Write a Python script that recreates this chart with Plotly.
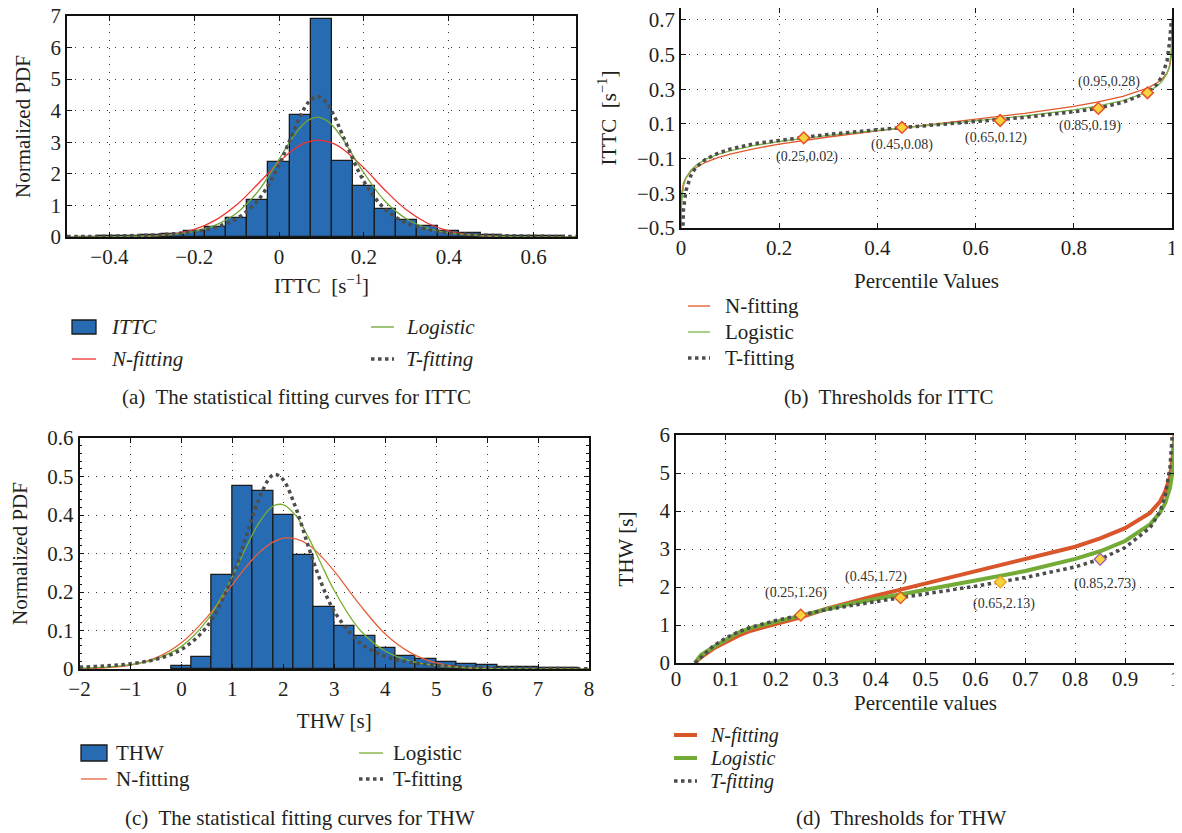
import plotly.graph_objects as go

# ---------------- Panel (a): ITTC histogram + fitted PDFs ----------------
ittc_bin_centers = [-0.45, -0.4, -0.35, -0.3, -0.25, -0.2, -0.15, -0.1, -0.05, 0.0, 0.05, 0.1,
                    0.15, 0.2, 0.25, 0.3, 0.35, 0.4, 0.45, 0.5, 0.55, 0.6, 0.65]
ittc_pdf = [0.01, 0.02, 0.03, 0.05, 0.09, 0.2, 0.33, 0.61, 1.16, 2.36, 3.85, 6.9,
            2.42, 1.6, 0.9, 0.55, 0.35, 0.2, 0.12, 0.07, 0.04, 0.03, 0.02]
ittc_bin_width = 0.05

ittc_x = [-0.5, -0.4, -0.3, -0.25, -0.2, -0.15, -0.1, -0.05, 0.0, 0.025, 0.05, 0.07, 0.09,
          0.11, 0.13, 0.15, 0.2, 0.25, 0.3, 0.35, 0.4, 0.45, 0.5, 0.6, 0.7]
ittc_n_fit = [0.0001, 0.002, 0.032, 0.095, 0.24, 0.535, 1.02, 1.68, 2.38, 2.68, 2.91, 3.02, 3.07,
              3.04, 2.95, 2.79, 2.19, 1.48, 0.86, 0.435, 0.19, 0.071, 0.023, 0.002, 0.0001]
ittc_logistic = [0.002, 0.009, 0.040, 0.086, 0.18, 0.375, 0.758, 1.44, 2.46, 3.01, 3.47, 3.71, 3.8,
                 3.71, 3.47, 3.105, 2.03, 1.13, 0.576, 0.282, 0.134, 0.064, 0.030, 0.0064, 0.0014]
ittc_t_fit = [0.014, 0.027, 0.063, 0.10, 0.17, 0.306, 0.583, 1.16, 2.28, 3.06, 3.83, 4.28, 4.45,
              4.28, 3.83, 3.22, 1.76, 0.88, 0.45, 0.24, 0.137, 0.083, 0.053, 0.024, 0.012]

# ---------------- Panel (b): ITTC thresholds ----------------
pct_b = [1e-6, 1e-4, 0.001, 0.005, 0.01, 0.02, 0.03, 0.05, 0.075, 0.1, 0.15, 0.2, 0.25, 0.3,
         0.4, 0.5, 0.6, 0.7, 0.8, 0.85, 0.9, 0.95, 0.97, 0.98, 0.99, 0.995, 0.999, 0.9999, 0.999999]
ittc_q_n = [-0.525, -0.391, -0.309, -0.242, -0.209, -0.174, -0.152, -0.121, -0.094, -0.074, -0.042,
            -0.016, 0.005, 0.025, 0.060, 0.093, 0.126, 0.161, 0.202, 0.228, 0.260, 0.307, 0.338,
            0.360, 0.395, 0.428, 0.495, 0.577, 0.70]
ittc_q_l = [-0.819, -0.516, -0.364, -0.258, -0.212, -0.166, -0.139, -0.104, -0.075, -0.055, -0.024,
            -0.001, 0.018, 0.034, 0.063, 0.090, 0.117, 0.146, 0.181, 0.204, 0.235, 0.284, 0.319,
            0.346, 0.392, 0.438, 0.544, 0.696, 0.70]
ittc_q_t = [-1.9, -1.74, -0.753, -0.392, -0.285, -0.198, -0.151, -0.104, -0.069, -0.045, -0.013,
            0.005, 0.022, 0.040, 0.067, 0.090, 0.113, 0.138, 0.171, 0.191, 0.225, 0.282, 0.331,
            0.378, 0.465, 0.572, 0.70, 0.70, 0.70]
ittc_thr_p = [0.25, 0.45, 0.65, 0.85, 0.95]
ittc_thr_v = [0.02, 0.08, 0.12, 0.19, 0.28]

# ---------------- Panel (c): THW histogram + fitted PDFs ----------------
thw_bin_centers = [0.0, 0.4, 0.8, 1.2, 1.6, 2.0, 2.4, 2.8, 3.2, 3.6, 4.0, 4.4, 4.8, 5.2, 5.6,
                   6.0, 6.4, 6.8, 7.2, 7.6]
thw_pdf = [0.009, 0.031, 0.243, 0.475, 0.462, 0.399, 0.296, 0.162, 0.113, 0.087, 0.055, 0.033,
           0.025, 0.017, 0.013, 0.010, 0.006, 0.004, 0.003, 0.002]
thw_bin_width = 0.4

thw_x = [-2, -1.5, -1, -0.5, 0, 0.5, 1, 1.25, 1.5, 1.75, 1.85, 2, 2.25, 2.5, 2.75, 3, 3.5, 4,
         4.5, 5, 5.5, 6, 7, 8]
thw_n_fit = [0.0007, 0.003, 0.0102, 0.0289, 0.068, 0.134, 0.219, 0.262, 0.299, 0.326, 0.333, 0.340,
             0.338, 0.322, 0.292, 0.254, 0.167, 0.091, 0.042, 0.0158, 0.005, 0.0013, 0.0001, 0.0]
thw_logistic = [0.002, 0.0048, 0.0112, 0.0259, 0.0588, 0.1254, 0.2406, 0.3105, 0.375, 0.418, 0.426,
                0.4266, 0.3975, 0.340, 0.271, 0.204, 0.102, 0.0467, 0.0205, 0.0089, 0.0038,
                0.0016, 0.0003, 0.00005]
thw_t_fit = [0.0047, 0.0078, 0.0136, 0.0253, 0.0509, 0.110, 0.239, 0.336, 0.435, 0.499, 0.505,
             0.491, 0.417, 0.315, 0.222, 0.150, 0.0685, 0.033, 0.0172, 0.0096, 0.0057, 0.0036,
             0.0016, 0.0008]

# ---------------- Panel (d): THW thresholds ----------------
pct_d = [0.038, 0.05, 0.075, 0.1, 0.125, 0.15, 0.2, 0.25, 0.3, 0.35, 0.4, 0.45, 0.5, 0.6, 0.65,
         0.7, 0.8, 0.85, 0.9, 0.95, 0.97, 0.98, 0.99, 0.995, 0.999]
thw_q_n = [0.0, 0.15, 0.38, 0.55, 0.72, 0.85, 1.03, 1.2, 1.42, 1.6, 1.77, 1.93, 2.09, 2.4, 2.56,
           2.72, 3.06, 3.28, 3.55, 3.95, 4.25, 4.5, 4.9, 5.4, 6.0]
thw_q_l = [0.0, 0.21, 0.42, 0.62, 0.8, 0.92, 1.09, 1.26, 1.41, 1.56, 1.69, 1.81, 1.93, 2.17, 2.29,
           2.42, 2.74, 2.94, 3.21, 3.65, 3.96, 4.2, 4.61, 5.02, 5.96]
thw_q_t = [0.0, 0.14, 0.45, 0.66, 0.82, 0.94, 1.12, 1.26, 1.4, 1.51, 1.62, 1.72, 1.82, 2.02, 2.13,
           2.25, 2.53, 2.73, 3.04, 3.56, 3.98, 4.38, 5.16, 6.1, 9.0]
thw_thr_p = [0.25, 0.45, 0.65, 0.85]
thw_thr_v = [1.26, 1.72, 2.13, 2.73]

# ---------------- tick values ----------------
ticks_a_x = [-0.4, -0.2, 0, 0.2, 0.4, 0.6]
ticks_a_y = [0, 1, 2, 3, 4, 5, 6, 7]
ticks_b_x = [0, 0.2, 0.4, 0.6, 0.8, 1]
ticks_b_y = [-0.5, -0.3, -0.1, 0.1, 0.3, 0.5, 0.7]
ticks_c_x = [-2, -1, 0, 1, 2, 3, 4, 5, 6, 7, 8]
ticks_c_y = [0, 0.1, 0.2, 0.3, 0.4, 0.5, 0.6]
ticks_d_x = [0, 0.1, 0.2, 0.3, 0.4, 0.5, 0.6, 0.7, 0.8, 0.9, 1]
ticks_d_y = [0, 1, 2, 3, 4, 5, 6]

series_names = ["N-fitting", "Logistic", "T-fitting"]
captions = ["(a)  The statistical fitting curves for ITTC", "(b)  Thresholds for ITTC",
            "(c)  The statistical fitting curves for THW", "(d)  Thresholds for THW"]

# ---------------- styling / layout constants ----------------
FONT = "Liberation Serif"
TXT = "#231f20"
BAR_FILL = "#276bb3"
BAR_LINE = "#1b1b1b"
DOT = "#4d4d4d"
FS = 21
W, H = 1174, 825          # figure size (page has an 8px body margin)
OFF = 8

def clamp(v):
    return min(1.0, max(0.0, v))

def px(x, y):
    return (x - OFF) / W, 1 - (y - OFF) / H

def px_dom(x0, x1, y0, y1):
    return ([clamp((x0 - OFF) / W), clamp((x1 - OFF) / W)],
            [clamp(1 - (y1 - OFF) / H), clamp(1 - (y0 - OFF) / H)])

dom_a = px_dom(67, 576, 16, 237)
dom_b = px_dom(681, 1172, 8, 228)
dom_c = px_dom(79.5, 589, 438, 669)
dom_d = px_dom(676, 1175, 435, 663)
range_b_top = 0.7 + 12 / 173.5   # 0.7 gridline sits ~12px under the frame top

lbl_off_b = [(3, -19), (0, -18), (-4, -17), (-8, -18), (-38, 11)]
lbl_off_d = [(-5, 22), (-25, 21), (4, -22), (5, -25)]

col_a = {"N-fitting": "#f03232", "Logistic": "#6ea534", "T-fitting": DOT}
col_b = {"N-fitting": "#e0582c", "Logistic": "#7ab648", "T-fitting": DOT}
col_c = {"N-fitting": "#e8603a", "Logistic": "#78ae2f", "T-fitting": DOT}
col_d = {"N-fitting": "#d9562a", "Logistic": "#74ab37", "T-fitting": DOT}

fig = go.Figure()

def curve(x, y, name, color, width, dash, xa, ya, spline):
    fig.add_trace(go.Scatter(x=x, y=y, mode="lines", name=name, showlegend=False,
                             line=dict(color=color, width=width, dash=dash,
                                       shape="spline" if spline else "linear"),
                             xaxis=xa, yaxis=ya))

# (a)
fig.add_trace(go.Bar(x=ittc_bin_centers, y=ittc_pdf, width=ittc_bin_width, name="ITTC",
                     showlegend=False,
                     marker=dict(color=BAR_FILL, line=dict(color=BAR_LINE, width=1.3)),
                     xaxis="x", yaxis="y"))
for ys, nm in zip([ittc_n_fit, ittc_logistic, ittc_t_fit], series_names):
    dotted = nm == "T-fitting"
    curve(ittc_x, ys, nm, col_a[nm], 3.5 if dotted else 1.3, "dot" if dotted else "solid", "x", "y", True)

# (b)
for ys, nm in zip([ittc_q_n, ittc_q_l, ittc_q_t], series_names):
    dotted = nm == "T-fitting"
    curve(pct_b, ys, nm, col_b[nm], 3.5 if dotted else 1.3, "dot" if dotted else "solid", "x2", "y2", False)
fig.add_trace(go.Scatter(x=ittc_thr_p, y=ittc_thr_v, mode="markers", showlegend=False,
                         name="ITTC thresholds",
                         marker=dict(symbol="diamond", size=9, color="#f7d43c",
                                     line=dict(color="#e8502a", width=1.5)),
                         xaxis="x2", yaxis="y2"))

# (c)
fig.add_trace(go.Bar(x=thw_bin_centers, y=thw_pdf, width=thw_bin_width, name="THW",
                     showlegend=False,
                     marker=dict(color=BAR_FILL, line=dict(color=BAR_LINE, width=1.3)),
                     xaxis="x3", yaxis="y3"))
for ys, nm in zip([thw_n_fit, thw_logistic, thw_t_fit], series_names):
    dotted = nm == "T-fitting"
    curve(thw_x, ys, nm, col_c[nm], 3.5 if dotted else 1.3, "dot" if dotted else "solid", "x3", "y3", True)

# (d)
for ys, nm in zip([thw_q_n, thw_q_l, thw_q_t], series_names):
    dotted = nm == "T-fitting"
    curve(pct_d, ys, nm, col_d[nm], 3.5 if dotted else 4, "dot" if dotted else "solid", "x4", "y4", False)
fig.add_trace(go.Scatter(x=thw_thr_p, y=thw_thr_v, mode="markers", showlegend=False,
                         name="THW thresholds",
                         marker=dict(symbol="diamond", size=9, color="#f7d43c",
                                     line=dict(color=["#e8502a", "#e8502a", "#f0a020", "#9b59b6"],
                                               width=1.3)),
                         xaxis="x4", yaxis="y4"))

annotations = []
shapes = []
for (p, v), (dx, dy) in zip(zip(ittc_thr_p, ittc_thr_v), lbl_off_b):
    annotations.append(dict(x=p, y=v, xref="x2", yref="y2", text=f"({p:g},{v:.2f})",
                            showarrow=False, xshift=dx, yshift=dy,
                            font=dict(family=FONT, size=14, color="#333")))
for (p, v), (dx, dy) in zip(zip(thw_thr_p, thw_thr_v), lbl_off_d):
    annotations.append(dict(x=p, y=v, xref="x4", yref="y4", text=f"({p:g},{v:.2f})",
                            showarrow=False, xshift=dx, yshift=dy,
                            font=dict(family=FONT, size=14, color="#333")))
cap_pos = [(296, 397), (889, 397), (300, 818), (901, 818)]
for text, (cx, cy) in zip(captions, cap_pos):
    xx, yy = px(cx, cy)
    annotations.append(dict(x=xx, y=yy, xref="paper", yref="paper", text=text,
                            showarrow=False, xanchor="center", yanchor="middle",
                            font=dict(family=FONT, size=FS, color=TXT)))

# ---------------- legends (symbol + text) ----------------
def legend_entry(kind, label, color, width, dash, sx0, sx1, tx, ry, italic, rect_h=14, fs=FS):
    if kind == "bar":
        x0, y0 = px(sx0, ry - rect_h / 2)
        x1, y1 = px(sx1, ry + rect_h / 2)
        shapes.append(dict(type="rect", xref="paper", yref="paper", x0=x0, x1=x1, y0=y0, y1=y1,
                           fillcolor=BAR_FILL, line=dict(color=BAR_LINE, width=1.3)))
    else:
        x0, yy = px(sx0, ry)
        x1, _ = px(sx1, ry)
        shapes.append(dict(type="line", xref="paper", yref="paper", x0=x0, x1=x1, y0=yy, y1=yy,
                           line=dict(color=color, width=width, dash=dash)))
    txx, tyy = px(tx, ry)
    annotations.append(dict(x=txx, y=tyy, xref="paper", yref="paper",
                            text=f"<i>{label}</i>" if italic else label,
                            showarrow=False, xanchor="left", yanchor="middle", borderpad=0,
                            font=dict(family=FONT, size=fs, color=TXT)))

# legend (a)
legend_entry("bar", "ITTC", None, 0, None, 72, 96, 110, 327, True, 14)
legend_entry("line", "N-fitting", col_a["N-fitting"], 1.3, "solid", 72, 96, 110, 359, True)
legend_entry("line", "Logistic", col_a["Logistic"], 1.3, "solid", 371, 394, 405, 327, True)
legend_entry("line", "T-fitting", col_a["T-fitting"], 3.5, "dot", 371, 394, 405, 359, True)
# legend (b)
for nm, ry in zip(series_names, [306, 332, 358]):
    dotted = nm == "T-fitting"
    legend_entry("line", nm, col_b[nm], 3.5 if dotted else 1.3, "dot" if dotted else "solid",
                 688, 710, 724, ry, False)
# legend (c)
legend_entry("bar", "THW", None, 0, None, 81, 107, 115, 753, False, 16)
legend_entry("line", "N-fitting", col_c["N-fitting"], 1.3, "solid", 81, 107, 115, 779, False)
legend_entry("line", "Logistic", col_c["Logistic"], 1.3, "solid", 359, 383, 392, 753, False)
legend_entry("line", "T-fitting", col_c["T-fitting"], 3.5, "dot", 359, 383, 392, 779, False)
# legend (d)
for nm, ry in zip(series_names, [735, 758, 781]):
    dotted = nm == "T-fitting"
    legend_entry("line", nm, col_d[nm], 3.5 if dotted else 4, "dot" if dotted else "solid",
                 674, 697, 709, ry, True, fs=20)

def axis(dom, rng, tickvals, title, standoff, anchor, lblstand=0, minor=None):
    d = dict(domain=dom, range=rng, tickmode="array", tickvals=tickvals, anchor=anchor,
             showline=True, mirror="ticks", linecolor="#111", linewidth=1.5,
             ticks="inside", ticklen=5, tickwidth=1, tickcolor="#111",
             showgrid=True, gridcolor="#333", gridwidth=1, griddash="1px,7px",
             zeroline=False, automargin=False, ticklabelstandoff=lblstand,
             ticklabeloverflow="allow",
             tickfont=dict(family=FONT, size=FS, color=TXT),
             title=dict(text=title, standoff=standoff, font=dict(family=FONT, size=FS, color=TXT)))
    if minor:
        d["minor"] = minor
    return d

fig.update_layout(
    width=W, height=H, margin=dict(l=0, r=0, t=0, b=0),
    paper_bgcolor="white", plot_bgcolor="white",
    font=dict(family=FONT, color=TXT),
    bargap=0, showlegend=False,
    xaxis=axis(dom_a[0], [-0.5, 0.7], ticks_a_x, "ITTC  [s<sup>−1</sup>]", 10, "y"),
    yaxis=axis(dom_a[1], [0, 7], ticks_a_y, "Normalized PDF", 14, "x"),
    xaxis2=axis(dom_b[0], [0, 1], ticks_b_x, "Percentile Values", 14, "y2"),
    yaxis2=axis(dom_b[1], [-0.5, range_b_top], ticks_b_y, "ITTC  [s<sup>−1</sup>]", 15, "x2"),
    xaxis3=axis(dom_c[0], [-2, 8], ticks_c_x, "THW [s]", 13, "y3"),
    yaxis3=axis(dom_c[1], [0, 0.6], ticks_c_y, "Normalized PDF", 20, "x3",
                minor=dict(tickmode="linear", tick0=0, dtick=0.02, ticks="inside",
                           ticklen=3, tickcolor="#111", showgrid=False)),
    xaxis4=axis(dom_d[0], [0, 1], ticks_d_x, "Percentile values", 3, "y4", lblstand=-4),
    yaxis4=axis(dom_d[1], [0, 6], ticks_d_y, "THW [s]", 20, "x4"),
    annotations=annotations,
    shapes=shapes,
)

fig.write_html("out.html")
